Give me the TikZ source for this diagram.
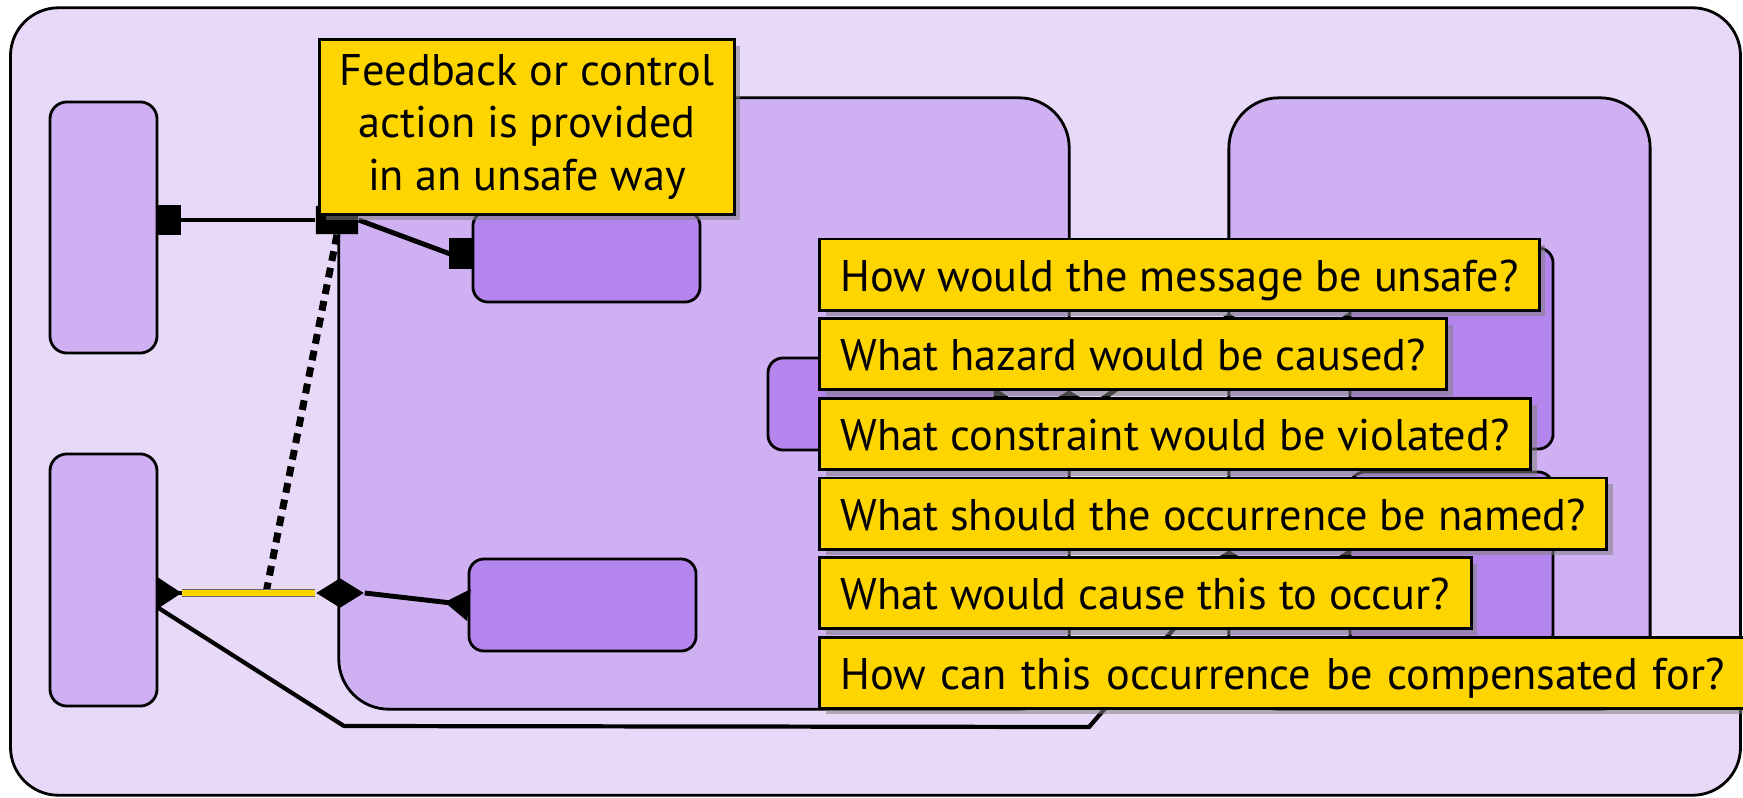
\documentclass[tikz,border=0pt]{standalone}
\usepackage{fontspec}
\setmainfont{PT Sans}
\usetikzlibrary{arrows.meta, shapes.geometric, shapes.misc, shadows}

\definecolor{outerbg}{HTML}{E8D9F8}
\definecolor{unitbg}{HTML}{CFB0F2}
\definecolor{partbg}{HTML}{B485EC}
\definecolor{gold}{HTML}{FFD500}

\tikzset{
    port/.tip={Square[length=6.8pt, width=8.8pt]},
    cone/.tip={Triangle[reversed, length=7pt, width=8.8pt]},
}

\begin{document}
\begin{tikzpicture}[x=0.01cm, y=-0.01cm,
    unit/.style={draw=black, line width=0.8pt, fill=unitbg, rounded corners=0.5cm, inner sep=0pt, outer sep=0pt},
    slot/.style={draw=black, line width=0.8pt, fill=unitbg, rounded corners=0.17cm, inner sep=0pt, outer sep=0pt},
    part/.style={draw=black, line width=0.8pt, fill=partbg, rounded corners=0.15cm, inner sep=0pt, outer sep=0pt},
    conn/.style={line width=1.4pt, black},
    joint/.style={diamond, fill=black, inner sep=0pt, minimum width=0.48cm, minimum height=0.3cm},
    question/.style={draw=black, line width=0.85pt, fill=gold, font=\fontsize{12.6}{15}\selectfont,
        inner xsep=0.21cm, inner ysep=0pt, text height=0.52cm, text depth=0.19cm, anchor=north west,
        drop shadow={shadow xshift=0.06cm, shadow yshift=-0.06cm, opacity=0.55}}]
    \useasboundingbox (0,0) rectangle (1743,797);

    %Frame and units
    \node[unit, fill=outerbg, rounded corners=0.48cm, minimum width=17.29cm, minimum height=7.87cm] (frame) at (875.5,401.5) {};
    \node[slot, minimum width=1.07cm, minimum height=2.51cm] (ctrl) at (103.5,227.5) {};
    \node[slot, minimum width=1.07cm, minimum height=2.52cm] (sens) at (103.5,580) {};
    \node[unit, minimum width=7.3cm, minimum height=6.11cm] (proc) at (704,403.5) {};
    \node[unit, minimum width=4.21cm, minimum height=6.11cm] (envi) at (1439.5,403.5) {};

    %Parts
    \node[part, minimum width=2.27cm, minimum height=0.91cm] (act) at (586.5,256.5) {};
    \node[part, minimum width=2.27cm, minimum height=0.92cm] (mon) at (582.5,605) {};
    \node[part, minimum width=2.27cm, minimum height=0.92cm] (mid) at (881.5,404) {};
    \node[part, minimum width=2.03cm, minimum height=2.01cm] (upr) at (1451.5,348.5) {};
    \node[part, minimum width=2.03cm, minimum height=1.76cm] (lwr) at (1451.5,560) {};

    %Junctions
    \node[chamfered rectangle, chamfered rectangle xsep=0.07cm, chamfered rectangle ysep=0.07cm, fill=black, inner sep=0pt, minimum width=0.42cm, minimum height=0.28cm] (jtop) at (337,220) {};
    \node[joint] (jlow) at (340,593) {};
    \node[joint] (jmid) at (1069,405) {};
    \node[joint] (jupr) at (1229,328) {};
    \node[joint] (jlwr) at (1229,565) {};
    \coordinate (tap) at (266,593);
    \coordinate (bendA) at (344,726);
    \coordinate (bendB) at (1089,727);

    %Lines
    \draw[conn, port-] (ctrl.east |- jtop) -- (jtop.west);
    \draw[conn, -port] (jtop.east) -- ([shift={(-0.24cm,0.03cm)}]act.west) -- ([yshift=0.03cm]act.west);
    \draw[conn, line width=2pt, dash pattern=on 2.8pt off 2pt] (jtop.south) -- (tap);
    \draw[conn, cone-] (sens.east |- jlow) -- (jlow.west);
    \draw[draw=black!60, line width=0.4pt, double=gold, double distance=1.7pt] (sens.east |- jlow) ++(25,0) -- (jlow.west);
    \draw[conn, -cone] (jlow.east) -- (mon.west);
    \draw[conn, line width=1.2pt] ([yshift=-0.27cm]sens.east) -- (bendA) -- (bendB) -- (jlwr);
    \draw[conn, -cone] (jlwr.east) -- (lwr.west |- jlwr);
    \draw[conn, cone-] (mid.east) -- (jmid.west);
    \draw[conn] (jmid.east) -- (jupr.west);
    \draw[conn, -cone] (jupr.east) -- (upr.west |- jupr);

    %Questions
    \node[question, anchor=center, align=center, inner xsep=0pt, text height=, text depth=, minimum width=4.14cm, minimum height=1.74cm] (fb) at (527,127) {Feedback or control\\action is provided\\in an unsafe way};
    \node[question] (q1) at (818,237.5) {How would the message be unsafe?};
    \node[question] (q2) at (818,317) {What hazard would be caused?};
    \node[question] (q3) at (818,397) {What constraint would be violated?};
    \node[question] (q4) at (818,476.5) {What should the occurrence be named?};
    \node[question] (q5) at (818,556) {What would cause this to occur?};
    \node[question, text width=9.2cm, align=left] (q6) at (818,635.5) {How can this occurrence be compensated for?};
\end{tikzpicture}
\end{document}
